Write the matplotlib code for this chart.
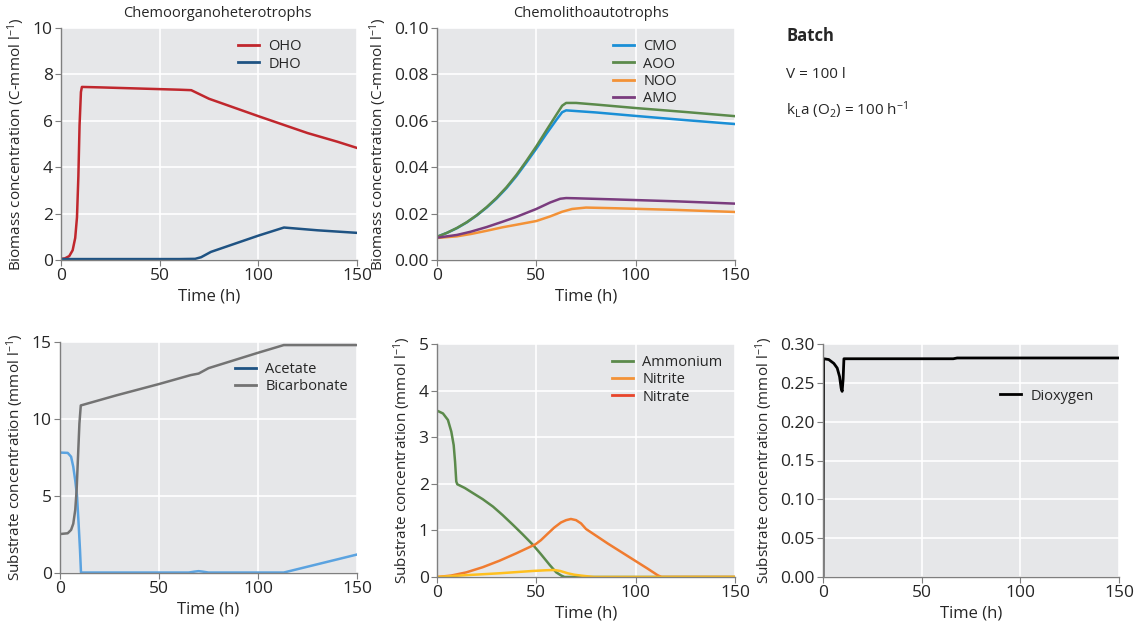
import numpy as np
import matplotlib
matplotlib.use("Agg")
import matplotlib.pyplot as plt
from matplotlib.lines import Line2D

plt.rcParams['font.family'] = ['Open Sans', 'DejaVu Sans']
plt.rcParams['font.size'] = 10.5
plt.rcParams['mathtext.default'] = 'regular'

# ---- data ----
# top left: chemoorganoheterotrophs (C-mmol/l)
t_oho = [0, 2, 4.2, 5.9, 7.2, 8.1, 8.8, 9.4, 10.1, 10.6, 20, 40, 60, 66, 75, 90, 100, 113, 125, 140, 150]
oho = [0.05, 0.07, 0.17, 0.42, 0.95, 1.84, 3.6, 5.8, 7.24, 7.46, 7.44, 7.39, 7.34, 7.32, 6.95, 6.5, 6.2, 5.82, 5.47, 5.1, 4.83]
t_dho = [0, 30, 60, 68, 71, 76, 88, 100, 113, 130, 150]
dho = [0.04, 0.04, 0.04, 0.05, 0.12, 0.35, 0.7, 1.05, 1.4, 1.28, 1.17]

# top middle: chemolithoautotrophs (C-mmol/l)
t_cmo = [0, 5, 10, 15, 20, 25, 30, 35, 40, 45, 50, 55, 60, 63, 65, 70, 80, 100, 125, 150]
cmo = [0.0100, 0.0117, 0.0137, 0.0162, 0.0192, 0.0226, 0.0265, 0.0310, 0.0362, 0.0420,
       0.0480, 0.0543, 0.0603, 0.0637, 0.0645, 0.0642, 0.0636, 0.0621, 0.0603, 0.0586]
aoo = [0.0100, 0.0117, 0.0138, 0.0163, 0.0193, 0.0228, 0.0268, 0.0314, 0.0367, 0.0427,
       0.0490, 0.0558, 0.0625, 0.0665, 0.0677, 0.0677, 0.0670, 0.0655, 0.0638, 0.0620]
t_noo = [0, 10, 17, 25, 33, 40, 50, 57, 63, 68, 75, 90, 120, 150]
noo = [0.0095, 0.0102, 0.0112, 0.0126, 0.0141, 0.0152, 0.0168, 0.0188, 0.0208, 0.0220, 0.0226, 0.0223, 0.0216, 0.0207]
t_amo = [0, 10, 17, 25, 33, 40, 50, 57, 62, 65, 70, 90, 120, 150]
amo = [0.0096, 0.0108, 0.0122, 0.0142, 0.0165, 0.0186, 0.0220, 0.0248, 0.0264, 0.0267, 0.0266, 0.0261, 0.0253, 0.0243]

# bottom left: organic substrates (mmol/l)
t_ac = [0, 3.9, 5.6, 6.7, 7.7, 8.6, 9.4, 10.1, 10.6, 40, 65, 68, 70, 72, 75, 100, 113, 150]
acetate = [7.82, 7.8, 7.55, 6.9, 6.0, 5.0, 3.2, 1.5, 0.03, 0.03, 0.03, 0.09, 0.12, 0.09, 0.03, 0.03, 0.03, 1.2]
t_bic = [0, 3.9, 5.6, 6.7, 7.7, 8.4, 9.1, 9.8, 10.5, 28.3, 50, 66, 70, 75, 100, 113, 150]
bicarbonate = [2.53, 2.58, 2.8, 3.2, 4.1, 5.4, 7.55, 9.7, 10.88, 11.53, 12.27, 12.85, 12.95, 13.3, 14.3, 14.8, 14.8]

# bottom middle: nitrogen species (mmol/l)
t_amm = [0, 3, 5.5, 7.2, 8.4, 9.1, 9.7, 10.2, 14, 18.1, 23, 28.2, 33, 38.2, 43, 48.3, 52.3, 56.7, 60, 62.6, 64.2, 150]
ammonium = [3.57, 3.51, 3.37, 3.12, 2.83, 2.47, 2.05, 1.99, 1.91, 1.8, 1.67, 1.51, 1.33, 1.12, 0.92, 0.69, 0.49, 0.26, 0.1, 0.03, 0.0, 0.0]
t_nit = [0, 15, 31.5, 48.3, 55, 59, 62, 65.8, 69, 72.5, 79, 150]
nitrite = [0.0, 0.04, 0.08, 0.13, 0.145, 0.15, 0.13, 0.08, 0.05, 0.03, 0.0, 0.0]
t_nat = [0, 7, 14.8, 23, 31.5, 40, 45, 49.5, 52.3, 55.5, 59, 62.4, 65, 67.4, 70, 72.5, 75, 85.9, 99.3, 106, 111, 113, 150]
nitrate = [0.0, 0.03, 0.10, 0.21, 0.35, 0.51, 0.61, 0.70, 0.79, 0.92, 1.06, 1.17, 1.22, 1.245, 1.22, 1.15, 1.03, 0.72, 0.36, 0.18, 0.04, 0.0, 0.0]

# bottom right: dissolved oxygen (mmol/l)
t_o2 = [0, 0.3, 2.9, 5.5, 7.2, 8.4, 9.2, 9.7, 10.2, 10.6, 30, 66, 68, 150]
dioxygen = [0.0, 0.281, 0.280, 0.275, 0.269, 0.258, 0.243, 0.239, 0.255, 0.281, 0.281, 0.281, 0.282, 0.282]

yticks_tl = [0, 2, 4, 6, 8, 10]
yticks_tm = [0.00, 0.02, 0.04, 0.06, 0.08, 0.10]
yticks_bl = [0, 5, 10, 15]
yticks_bm = [0, 1, 2, 3, 4, 5]
yticks_br = [0.00, 0.05, 0.10, 0.15, 0.20, 0.25, 0.30]
xticks = [0, 50, 100, 150]

BG = '#e6e7e9'
SPINE = '#7f7f7f'
TXT = '#262626'


def style(ax, yticks, fmt, ylabel):
    ax.set_facecolor(BG)
    ax.set_xlim(0, 150)
    ax.set_ylim(yticks[0], yticks[-1])
    ax.set_xticks(xticks)
    ax.set_yticks(yticks)
    ax.set_yticklabels([fmt.format(v) for v in yticks])
    ax.grid(True, color='white', lw=1.2)
    ax.set_axisbelow(True)
    for s in ['top', 'right']:
        ax.spines[s].set_visible(False)
    for s in ['left', 'bottom']:
        ax.spines[s].set_color(SPINE)
        ax.spines[s].set_linewidth(1.0)
    ax.tick_params(colors=SPINE, labelcolor=TXT, length=4, labelsize=12.5, pad=2)
    ax.set_xlabel('Time (h)', color=TXT, fontsize=12, labelpad=3)
    ax.set_ylabel(ylabel, color=TXT, fontsize=11, labelpad=4)


def legend(ax, names, colors, anchor):
    handles = [Line2D([], [], color=c, lw=2) for c in colors]
    ax.legend(handles, names, loc='upper left', bbox_to_anchor=anchor, frameon=False,
              handlelength=1.45, handletextpad=0.65, labelspacing=0.15,
              borderaxespad=0, fontsize=10.5, labelcolor=TXT)


fig = plt.figure(figsize=(11.37, 6.26), dpi=100)
W, H = 1137, 626


def axes_px(x0, x1, y0, y1):
    return fig.add_axes([x0 / W, 1 - y1 / H, (x1 - x0) / W, (y1 - y0) / H])


bio_lab = 'Biomass concentration (C-mmol l$^{-1}$)'
sub_lab = 'Substrate concentration (mmol l$^{-1}$)'

# top left
ax1 = axes_px(61, 357, 28, 260)
ax1.plot(t_oho, oho, color='#c0272d', lw=1.8)
ax1.plot(t_dho, dho, color='#1f5383', lw=1.8)
style(ax1, yticks_tl, '{:.0f}', bio_lab)
ax1.set_title('Chemoorganoheterotrophs', color=TXT, fontsize=10.5, pad=8, x=0.527)
legend(ax1, ['OHO', 'DHO'], ['#c0272d', '#1f5383'], (0.578, 0.976))

# top middle
ax2 = axes_px(437, 735, 28, 260)
ax2.plot(t_cmo, cmo, color='#1a8fd6', lw=1.8)
ax2.plot(t_cmo, aoo, color='#5b8a4b', lw=1.8)
ax2.plot(t_noo, noo, color='#f39237', lw=1.8)
ax2.plot(t_amo, amo, color='#7a3c7e', lw=1.8)
style(ax2, yticks_tm, '{:.2f}', bio_lab)
ax2.set_title('Chemolithoautotrophs', color=TXT, fontsize=10.5, pad=8, x=0.517)
legend(ax2, ['CMO', 'AOO', 'NOO', 'AMO'], ['#1a8fd6', '#5b8a4b', '#f39237', '#7a3c7e'],
       (0.570, 0.976))

# bottom left
ax3 = axes_px(60, 357, 342, 573)
ax3.plot(t_ac, acetate, color='#5ba3e0', lw=1.8)
ax3.plot(t_bic, bicarbonate, color='#737373', lw=1.8)
style(ax3, yticks_bl, '{:.0f}', sub_lab)
legend(ax3, ['Acetate', 'Bicarbonate'], ['#1f5383', '#737373'], (0.569, 0.939))

# bottom middle
ax4 = axes_px(437, 735, 344, 577)
ax4.plot(t_amm, ammonium, color='#5b8a4b', lw=1.8)
ax4.plot(t_nat, nitrate, color='#f07c30', lw=1.8)
ax4.plot(t_nit, nitrite, color='#ffc01f', lw=1.8)
style(ax4, yticks_bm, '{:.0f}', sub_lab)
legend(ax4, ['Ammonium', 'Nitrite', 'Nitrate'], ['#5b8a4b', '#f39237', '#e8452b'],
       (0.567, 0.977))

# bottom right
ax5 = axes_px(823, 1119, 344, 577)
ax5.plot(t_o2, dioxygen, color='black', lw=2)
style(ax5, yticks_br, '{:.2f}', sub_lab)
legend(ax5, ['Dioxygen'], ['black'], (0.578, 0.834))

# run conditions
fig.text(786 / W, 1 - 36 / H, 'Batch', fontsize=12, fontweight='bold', color=TXT, va='center')
fig.text(786 / W, 1 - 74 / H, 'V = 100 l', fontsize=11, color=TXT, va='center')
fig.text(786 / W, 1 - 110 / H, 'k$_L$a (O$_2$) = 100 h$^{-1}$', fontsize=11, color=TXT, va='center')

fig.savefig('out.png', dpi=100, facecolor='white')
